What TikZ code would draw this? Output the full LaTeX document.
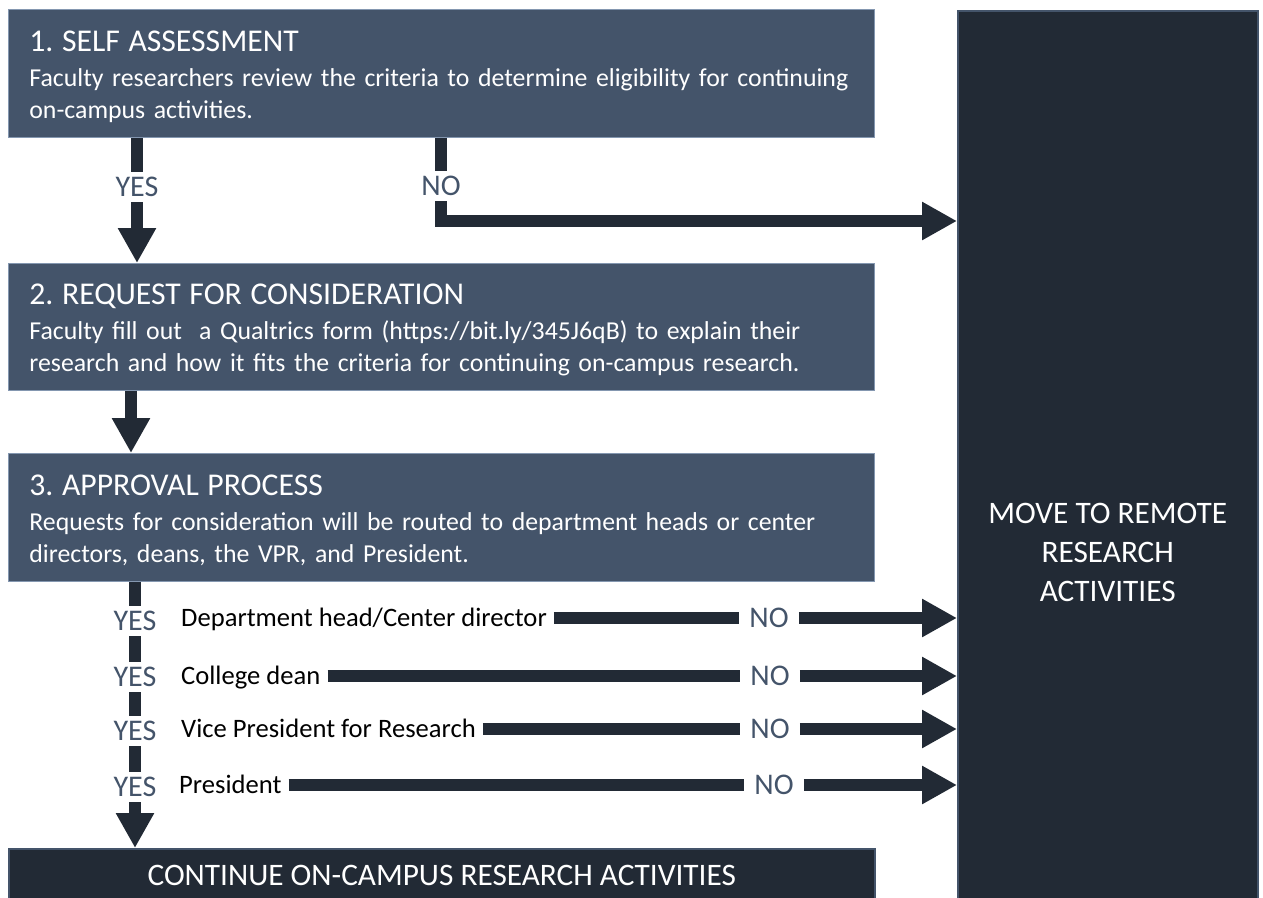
\documentclass[tikz,border=0pt]{standalone}
\usepackage{fontspec}
\setmainfont{Carlito}
\frenchspacing
\usetikzlibrary{arrows.meta}
\definecolor{slate}{HTML}{44546A}
\definecolor{ink}{HTML}{222A35}
\definecolor{edge}{HTML}{8497B0}
\begin{document}
\begin{tikzpicture}[x=1pt,y=-1pt,
  stepbox/.style={anchor=north west,fill=slate,draw=edge,line width=.8pt,minimum width=866pt,text width=824pt,inner xsep=21pt,align=left,text=white,font=\fontsize{25.8}{32}\selectfont},
  darkbox/.style={anchor=north west,fill=ink,draw=slate,line width=1.5pt,text=white,align=center,font=\fontsize{31.3}{39}\selectfont},
  lbl/.style={text=slate,font=\fontsize{30}{30}\selectfont,text height=19pt,text depth=0pt,inner ysep=5.5pt,inner xsep=10pt},
  who/.style={anchor=west,font=\fontsize{26.6}{30}\selectfont,text height=17pt,text depth=0pt,inner xsep=7pt},
  bar/.style={draw=ink,line width=12pt},
  arr/.style={bar,-{Triangle[length=35pt,width=36pt]}}]
\useasboundingbox (0,0) rectangle (1263,897);
\clip (0,0) rectangle (1263,897);
\node[stepbox,minimum height=128pt] (s1) at (8,9) {{\fontsize{31.7}{32}\selectfont\rule{0pt}{27pt}1. SELF ASSESSMENT}\\[3pt]\mbox{Faculty researchers review the criteria to determine eligibility for continuing}\\on-campus activities.};
\node[stepbox,minimum height=127pt] (s2) at (8,263) {{\fontsize{31.7}{32}\selectfont\rule{0pt}{27pt}2. REQUEST FOR CONSIDERATION}\\[3pt]\mbox{Faculty fill out\ \ a Qualtrics form (https://bit.ly/345J6qB) to explain their}\\\mbox{research and how it fits the criteria for continuing on-campus research.}};
\node[stepbox,minimum height=128pt] (s3) at (8,453) {{\fontsize{31.7}{32}\selectfont\rule{0pt}{27pt}3. APPROVAL PROCESS}\\[3pt]\mbox{Requests for consideration will be routed to department heads or center}\\directors, deans, the VPR, and President.};
\node[darkbox,minimum width=300pt,minimum height=1084pt] (remote) at (957,10) {MOVE TO REMOTE\\RESEARCH\\ACTIVITIES};
\node[darkbox,minimum width=866pt,minimum height=54pt] (cont) at (8,848) {CONTINUE ON-CAMPUS RESEARCH ACTIVITIES};

\node[lbl] (yes0) at (137,187) {YES};
\node[lbl] (no0) at (441,186) {NO};
\coordinate (bend) at (441,221);
\draw[bar] (s1.south -| yes0) -- (yes0.north);
\draw[arr] (yes0.south) -- (s2.north -| yes0);
\draw[bar] (s1.south -| no0) -- (no0.north);
\draw[arr] (no0.south) -- (bend) -- (remote.west |- bend);
\draw[arr] ([xshift=123pt]s2.south west) -- ([xshift=123pt]s3.north west);

\node[who] (dept) at (174,618) {Department head/Center director};
\node[who] (dean) at (174,676) {College dean};
\node[who] (vpr) at (174,729) {Vice President for Research};
\node[who] (pres) at (172,785) {President\ };
\node[lbl] (yes1) at (135,621) {YES};
\node[lbl] (yes2) at (135,677) {YES};
\node[lbl] (yes3) at (135,731) {YES};
\node[lbl] (yes4) at (135,787) {YES};
\node[lbl] (no1) at (769,618) {NO};
\node[lbl] (no2) at (770,676) {NO};
\node[lbl] (no3) at (770,729) {NO};
\node[lbl] (no4) at (774,785) {NO};
\draw[bar] (s3.south -| yes1) -- (yes1.north);
\draw[bar] (yes1.south) -- (yes2.north);
\draw[bar] (yes2.south) -- (yes3.north);
\draw[bar] (yes3.south) -- (yes4.north);
\draw[arr] (yes4.south) -- (cont.north -| yes4);
\draw[bar] (dept.east) -- (no1.west);
\draw[bar] (dean.east) -- (no2.west);
\draw[bar] (vpr.east) -- (no3.west);
\draw[bar] (pres.east) -- (no4.west);
\draw[arr] (no1.east) -- (remote.west |- no1);
\draw[arr] (no2.east) -- (remote.west |- no2);
\draw[arr] (no3.east) -- (remote.west |- no3);
\draw[arr] (no4.east) -- (remote.west |- no4);
\end{tikzpicture}
\end{document}
